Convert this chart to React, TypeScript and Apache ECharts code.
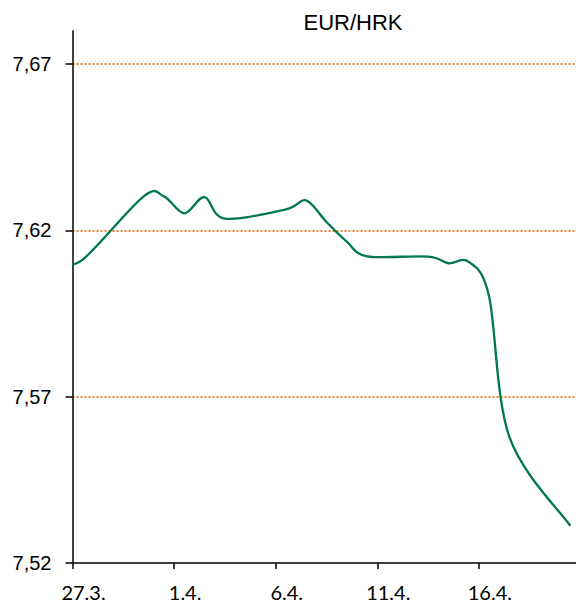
import React, { useEffect, useRef } from "react";
import * as echarts from "echarts";

const title = "EUR/HRK";
const dates = [
  "2020-03-26", "2020-03-27", "2020-03-30", "2020-03-31", "2020-04-01", "2020-04-02",
  "2020-04-03", "2020-04-06", "2020-04-07", "2020-04-08", "2020-04-09", "2020-04-10",
  "2020-04-13", "2020-04-14", "2020-04-15", "2020-04-16", "2020-04-17", "2020-04-20",
];
const rates = [
  7.6112, 7.6112, 7.6302, 7.6302, 7.6251, 7.63,
  7.6235, 7.6263, 7.629, 7.6225, 7.6166, 7.6122,
  7.6121, 7.6101, 7.6105, 7.6002, 7.5579, 7.5312,
];
const startDate = "2020-03-27";
const xTickLabels = ["27.3.", "1.4.", "6.4.", "11.4.", "16.4."];
const yTicks = [7.52, 7.57, 7.62, 7.67];

const DAY = 86400000;
const dayOffset = (d: string) =>
  (Date.parse(d + "T00:00:00Z") - Date.parse(startDate + "T00:00:00Z")) / DAY;

// Catmull-Rom style smoothing (like a spreadsheet's "smoothed line")
function smoothPath(pts: number[][]): string {
  if (!pts.length) return "";
  let d = `M${pts[0][0]},${pts[0][1]}`;
  for (let i = 0; i < pts.length - 1; i++) {
    const p0 = pts[Math.max(i - 1, 0)];
    const p1 = pts[i];
    const p2 = pts[i + 1];
    const p3 = pts[Math.min(i + 2, pts.length - 1)];
    const c1x = p1[0] + (p2[0] - p0[0]) / 6;
    const c1y = p1[1] + (p2[1] - p0[1]) / 6;
    const c2x = p2[0] - (p3[0] - p1[0]) / 6;
    const c2y = p2[1] - (p3[1] - p1[1]) / 6;
    d += ` C${c1x},${c1y} ${c2x},${c2y} ${p2[0]},${p2[1]}`;
  }
  return d;
}

export default function App() {
  const ref = useRef<HTMLDivElement>(null);
  useEffect(() => {
    if (!ref.current) return;
    const chart = echarts.init(ref.current, undefined, { renderer: "svg" });
    const data = dates.map((d, i) => [dayOffset(d) + 0.5, rates[i]]);
    chart.setOption({
      animation: false,
      backgroundColor: "#ffffff",
      title: {
        text: title,
        left: 348,
        top: 6,
        textAlign: "center",
        textStyle: {
          fontFamily: "'Liberation Sans Narrow', 'Liberation Sans', Arial, sans-serif",
          fontSize: 22,
          fontWeight: "normal",
          color: "#000",
        },
      },
      grid: { left: 72.5, right: 0, top: 30.7, bottom: 42, containLabel: false },
      xAxis: {
        type: "value",
        min: 0,
        max: 24.78,
        interval: 5,
        axisLine: { show: true, onZero: false, lineStyle: { color: "#000", width: 1.5 } },
        axisTick: { show: true, inside: false, length: 6, lineStyle: { color: "#000", width: 1.5 } },
        splitLine: { show: false },
        axisLabel: {
          showMaxLabel: false,
          margin: 19,
          padding: [0, 0, 0, 22],
          fontFamily: "Lato, 'Open Sans', sans-serif",
          fontSize: 20,
          color: "#000",
          formatter: (v: number) => {
            const idx = Math.round(v / 5);
            return Math.abs(v - idx * 5) < 1e-6 && xTickLabels[idx] ? xTickLabels[idx] : "";
          },
        },
      },
      yAxis: {
        type: "value",
        min: 7.52,
        max: 7.68,
        interval: 0.05,
        axisLine: { show: true, lineStyle: { color: "#000", width: 1.5 } },
        axisTick: { show: true, inside: false, length: 7, customValues: yTicks, lineStyle: { color: "#000", width: 1.5 } },
        axisLabel: {
          customValues: yTicks,
          margin: 21,
          fontFamily: "'Liberation Sans', Arial, sans-serif",
          fontSize: 20,
          color: "#000",
          formatter: (v: number) => v.toFixed(2).replace(".", ","),
        },
        splitLine: {
          show: true,
          showMinLine: false,
          lineStyle: { color: "#ED7D31", width: 2, type: [2, 2] },
        },
      },
      series: [
        {
          type: "custom",
          clip: true,
          data,
          encode: { x: 0, y: 1 },
          renderItem: (params: any, api: any) => {
            if (params.dataIndex !== 0) return null;
            const pts = data.map((p) => api.coord(p));
            return {
              type: "path",
              shape: { pathData: smoothPath(pts) },
              style: { stroke: "#00794A", lineWidth: 2.3, fill: "none" },
            };
          },
        },
      ],
    });
    return () => chart.dispose();
  }, []);
  return <div ref={ref} style={{ width: 576, height: 605, position: "absolute", left: 0, top: 0 }} />;
}
